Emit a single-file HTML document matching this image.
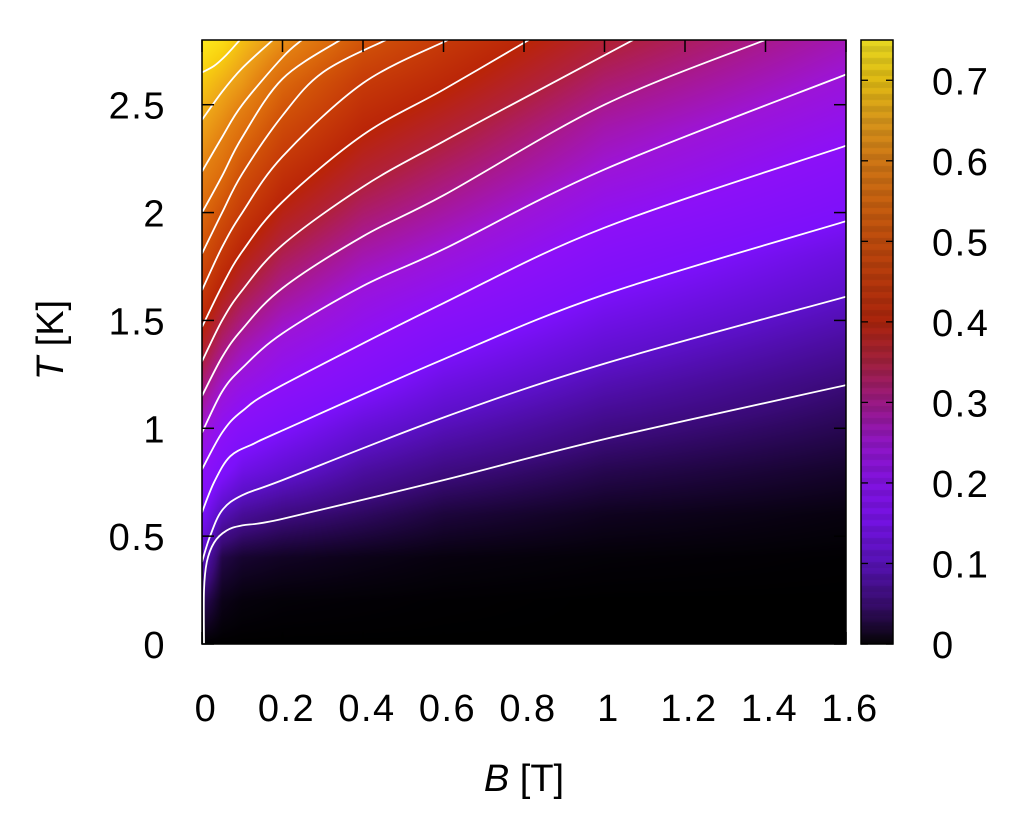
<!DOCTYPE html>
<html><head><meta charset="utf-8"><style>
html,body{margin:0;padding:0;background:#fff;width:1024px;height:819px;overflow:hidden}
#wrap{position:relative;width:1024px;height:819px}
canvas{position:absolute}
svg{position:absolute;left:0;top:0}
text{font-family:"Liberation Sans",sans-serif;fill:#000}
</style></head><body>
<div id="wrap">
<canvas id="heat" width="644" height="604" style="left:202px;top:40px"></canvas>
<canvas id="cbar" width="32" height="604" style="left:861px;top:40px"></canvas>
<svg id="svg" width="1024" height="819"></svg>
</div>
<script>
// ---- data ----
const gridB = [0, 0.05, 0.1, 0.2, 0.4, 0.6, 1.0, 1.6];
const gridT = [0, 0.2, 0.4, 0.6, 0.8, 1.0, 1.2, 1.4, 1.6, 1.8, 2.0, 2.2, 2.4, 2.6, 2.8];
const colB0  = [0, 0.04, 0.10, 0.15, 0.20, 0.255, 0.315, 0.38, 0.44, 0.50, 0.55, 0.60, 0.645, 0.69, 0.74];
const colB05 = [0, 0.01, 0.03, 0.09, 0.16, 0.205, 0.26, 0.32, 0.38, 0.44, 0.50, 0.56, 0.61, 0.66, 0.72];
const colB1  = [0, 0.005, 0.02, 0.07, 0.13, 0.18, 0.23, 0.283, 0.34, 0.395, 0.45, 0.505, 0.567, 0.63, 0.68];
const colB2  = [0, 0.003, 0.015, 0.055, 0.11, 0.155, 0.20, 0.24, 0.29, 0.338, 0.388, 0.435, 0.487, 0.545, 0.62];
const colB4  = [0, 0.002, 0.01, 0.04, 0.075, 0.115, 0.162, 0.20, 0.235, 0.278, 0.323, 0.367, 0.408, 0.45, 0.51];
const colB6  = [0, 0.001, 0.006, 0.025, 0.055, 0.09, 0.126, 0.163, 0.204, 0.244, 0.286, 0.326, 0.367, 0.41, 0.45];
const colB10 = [0, 0, 0.003, 0.013, 0.033, 0.057, 0.086, 0.116, 0.147, 0.179, 0.213, 0.25, 0.281, 0.32, 0.36];
const colB16 = [0, 0, 0.001, 0.006, 0.018, 0.034, 0.05, 0.074, 0.099, 0.123, 0.156, 0.184, 0.214, 0.244, 0.274];
const columns = [colB0, colB05, colB1, colB2, colB4, colB6, colB10, colB16];

// contour lines, [B,T] points
const c005 = [[0.005,0],[0.005,0.25],[0.012,0.38],[0.03,0.47],[0.06,0.525],[0.1,0.55],[0.2,0.58],[0.6,0.76],[1.0,0.95],[1.6,1.20]];
const c010 = [[0,0.38],[0.02,0.5],[0.05,0.62],[0.1,0.69],[0.2,0.76],[0.6,1.05],[1.0,1.30],[1.6,1.61]];
const c015 = [[0,0.61],[0.03,0.75],[0.07,0.87],[0.13,0.93],[0.2,0.99],[0.6,1.32],[1.0,1.62],[1.6,1.96]];
const c020 = [[0,0.81],[0.05,0.98],[0.1,1.08],[0.2,1.2],[0.6,1.58],[1.0,1.93],[1.6,2.31]];
const c025 = [[0,0.98],[0.05,1.17],[0.1,1.28],[0.2,1.44],[0.4,1.66],[0.6,1.83],[1.0,2.2],[1.6,2.64]];
const c030 = [[0,1.15],[0.05,1.33],[0.1,1.46],[0.2,1.65],[0.4,1.89],[0.6,2.08],[1.0,2.5],[1.399,2.8]];
const c035 = [[0,1.31],[0.05,1.5],[0.1,1.64],[0.2,1.85],[0.4,2.12],[0.6,2.33],[0.9,2.63],[1.071,2.8]];
const c040 = [[0,1.47],[0.05,1.66],[0.1,1.82],[0.2,2.05],[0.4,2.36],[0.6,2.57],[0.812,2.8]];
const c045 = [[0,1.64],[0.05,1.84],[0.1,2.0],[0.2,2.26],[0.4,2.6],[0.611,2.8]];
const c050 = [[0,1.81],[0.05,2.0],[0.1,2.18],[0.2,2.45],[0.3,2.65],[0.457,2.8]];
const c055 = [[0,2.0],[0.05,2.17],[0.1,2.35],[0.2,2.62],[0.343,2.8]];
const c060 = [[0,2.19],[0.05,2.35],[0.1,2.5],[0.2,2.72],[0.248,2.8]];
const c065 = [[0,2.43],[0.05,2.56],[0.1,2.67],[0.176,2.8]];
const c070 = [[0,2.65],[0.03,2.68],[0.06,2.73],[0.094,2.8]];
const contours = [c005,c010,c015,c020,c025,c030,c035,c040,c045,c050,c055,c060,c065,c070];

const xTicks = [0,0.2,0.4,0.6,0.8,1,1.2,1.4,1.6];
const xTickLabels = ["0","0.2","0.4","0.6","0.8","1","1.2","1.4","1.6"];
const yTicks = [0,0.5,1,1.5,2,2.5];
const yTickLabels = ["0","0.5","1","1.5","2","2.5"];
const cTicks = [0,0.1,0.2,0.3,0.4,0.5,0.6,0.7];
const cTickLabels = ["0","0.1","0.2","0.3","0.4","0.5","0.6","0.7"];

// ---- geometry ----
const PL=202, PR=846, PT=40, PB=644, BMAX=1.6, TMAX=2.8, CMAX=0.75;
const CL=861, CR=893;
const xs = b => PL + b/BMAX*(PR-PL);
const ys = t => PB - t/TMAX*(PB-PT);
const cs = v => PB - v/CMAX*(PB-PT);

const stopsV = [0,0.05,0.1,0.15,0.2,0.25,0.3,0.35,0.4,0.45,0.5,0.55,0.6,0.65,0.7,0.75];
const stopsC = ["#000000","#3a0a78","#5c10c8","#7c10fa","#8c10f8","#9c14d8","#a81890","#b02040","#ba2408","#c63a08","#d05008","#dc6a0c","#e48212","#eea618","#f8d010","#fff020"];
const stopsRGB = stopsC.map(h=>[parseInt(h.slice(1,3),16),parseInt(h.slice(3,5),16),parseInt(h.slice(5,7),16)]);
function pal(v){
  if(v<=0) return stopsRGB[0];
  for(let i=1;i<stopsV.length;i++){
    if(v<=stopsV[i]){const f=(v-stopsV[i-1])/(stopsV[i]-stopsV[i-1]);const a=stopsRGB[i-1],b=stopsRGB[i];return [a[0]+(b[0]-a[0])*f,a[1]+(b[1]-a[1])*f,a[2]+(b[2]-a[2])*f];}
  }
  return stopsRGB[stopsRGB.length-1];
}
function seg(arr,v){for(let i=0;i<arr.length-1;i++){if(v<=arr[i+1])return [i,(v-arr[i])/(arr[i+1]-arr[i])];}return [arr.length-2,1];}
function val(b,t){
  const [i,fb]=seg(gridB,b),[j,ft]=seg(gridT,t);
  const a=columns[i][j],c=columns[i+1][j],d=columns[i][j+1],e=columns[i+1][j+1];
  return (a*(1-fb)+c*fb)*(1-ft)+(d*(1-fb)+e*fb)*ft;
}
(function(){
  const cv=document.getElementById('heat'),ctx=cv.getContext('2d');
  const W=cv.width,H=cv.height,img=ctx.createImageData(W,H);
  for(let y=0;y<H;y++){const t=(H-y-0.5)/H*TMAX;
    for(let x=0;x<W;x++){const b=(x+0.5)/W*BMAX;const c=pal(val(b,t));const k=(y*W+x)*4;
      img.data[k]=c[0];img.data[k+1]=c[1];img.data[k+2]=c[2];img.data[k+3]=255;}}
  ctx.putImageData(img,0,0);
  const cb=document.getElementById('cbar'),cx=cb.getContext('2d');
  for(let y=0;y<cb.height;y++){const v=(cb.height-y-0.5)/cb.height*CMAX;const c=pal(v);
    const k=(Math.floor(y/6)%2)?0.92:1;
    cx.fillStyle=`rgb(${Math.round((c[0]*0.88+50*0.12)*k)},${Math.round((c[1]*0.88+35*0.12)*k)},${Math.round((c[2]*0.88+45*0.12)*k)})`;
    cx.fillRect(0,y,cb.width,1);}
})();
const svg=document.getElementById('svg');const NS='http://www.w3.org/2000/svg';
function mk(tag,attrs,parent){const e=document.createElementNS(NS,tag);for(const k in attrs)e.setAttribute(k,attrs[k]);(parent||svg).appendChild(e);return e;}
function smoothPath(pts){
  let d='M'+pts[0][0].toFixed(1)+','+pts[0][1].toFixed(1);
  for(let i=0;i<pts.length-1;i++){
    const p0=pts[Math.max(0,i-1)],p1=pts[i],p2=pts[i+1],p3=pts[Math.min(pts.length-1,i+2)];
    const c1=[p1[0]+(p2[0]-p0[0])/6,p1[1]+(p2[1]-p0[1])/6],c2=[p2[0]-(p3[0]-p1[0])/6,p2[1]-(p3[1]-p1[1])/6];
    d+=' C'+c1.map(v=>v.toFixed(1)).join(',')+' '+c2.map(v=>v.toFixed(1)).join(',')+' '+p2[0].toFixed(1)+','+p2[1].toFixed(1);
  }
  return d;
}
const defs=mk('defs',{});
const cp=mk('clipPath',{id:'pclip'},defs);
mk('rect',{x:PL,y:PT,width:PR-PL,height:PB-PT},cp);
const gc=mk('g',{'clip-path':'url(#pclip)'});


contours.forEach((line,i)=>{
  const p=mk('path',{d:smoothPath(line.map(q=>[xs(q[0]),ys(q[1])])),fill:'none',stroke:'#fff','stroke-width':1.8,'stroke-linejoin':'round'},gc);
  
  
});
const frame=mk('rect',{x:PL,y:PT,width:PR-PL,height:PB-PT,fill:'none',stroke:'#000','stroke-width':1.5});


const cframe=mk('rect',{x:CL,y:PT,width:CR-CL,height:PB-PT,fill:'none',stroke:'#000','stroke-width':1.5});


const FS=38, LS=1.5;
xTicks.forEach((b,i)=>{
  const x=xs(b);
  mk('line',{x1:x,y1:PB,x2:x,y2:PB-12,stroke:'#000','stroke-width':1.5});
  mk('line',{x1:x,y1:PT,x2:x,y2:PT+12,stroke:'#000','stroke-width':1.5});
  const t=mk('text',{x:x+4,y:721,'font-size':FS,'letter-spacing':LS,'text-anchor':'middle'});t.textContent=xTickLabels[i];
  
  
});
yTicks.forEach((v,i)=>{
  const y=ys(v);
  mk('line',{x1:PL,y1:y,x2:PL+12,y2:y,stroke:'#000','stroke-width':1.5});
  mk('line',{x1:PR,y1:y,x2:PR-12,y2:y,stroke:'#000','stroke-width':1.5});
  const t=mk('text',{x:166,y:y+14,'font-size':FS,'letter-spacing':LS,'text-anchor':'end'});t.textContent=yTickLabels[i];
  
  
});
cTicks.forEach((v,i)=>{
  const y=cs(v);
  mk('line',{x1:CL,y1:y,x2:CL+7,y2:y,stroke:'#000','stroke-width':1.3});
  mk('line',{x1:CR,y1:y,x2:CR-7,y2:y,stroke:'#000','stroke-width':1.3});
  const t=mk('text',{x:932,y:y+14,'font-size':FS,'letter-spacing':LS});t.textContent=cTickLabels[i];
  
  
});
const xl=mk('text',{x:524,y:791,'font-size':FS,'text-anchor':'middle'});
xl.innerHTML='<tspan font-style="italic">B</tspan> [T]';


const yl=mk('text',{x:0,y:0,'font-size':FS,'text-anchor':'middle',transform:'translate(63,340) rotate(-90)'});
yl.innerHTML='<tspan font-style="italic">T</tspan> [K]';


</script>
</body></html>
